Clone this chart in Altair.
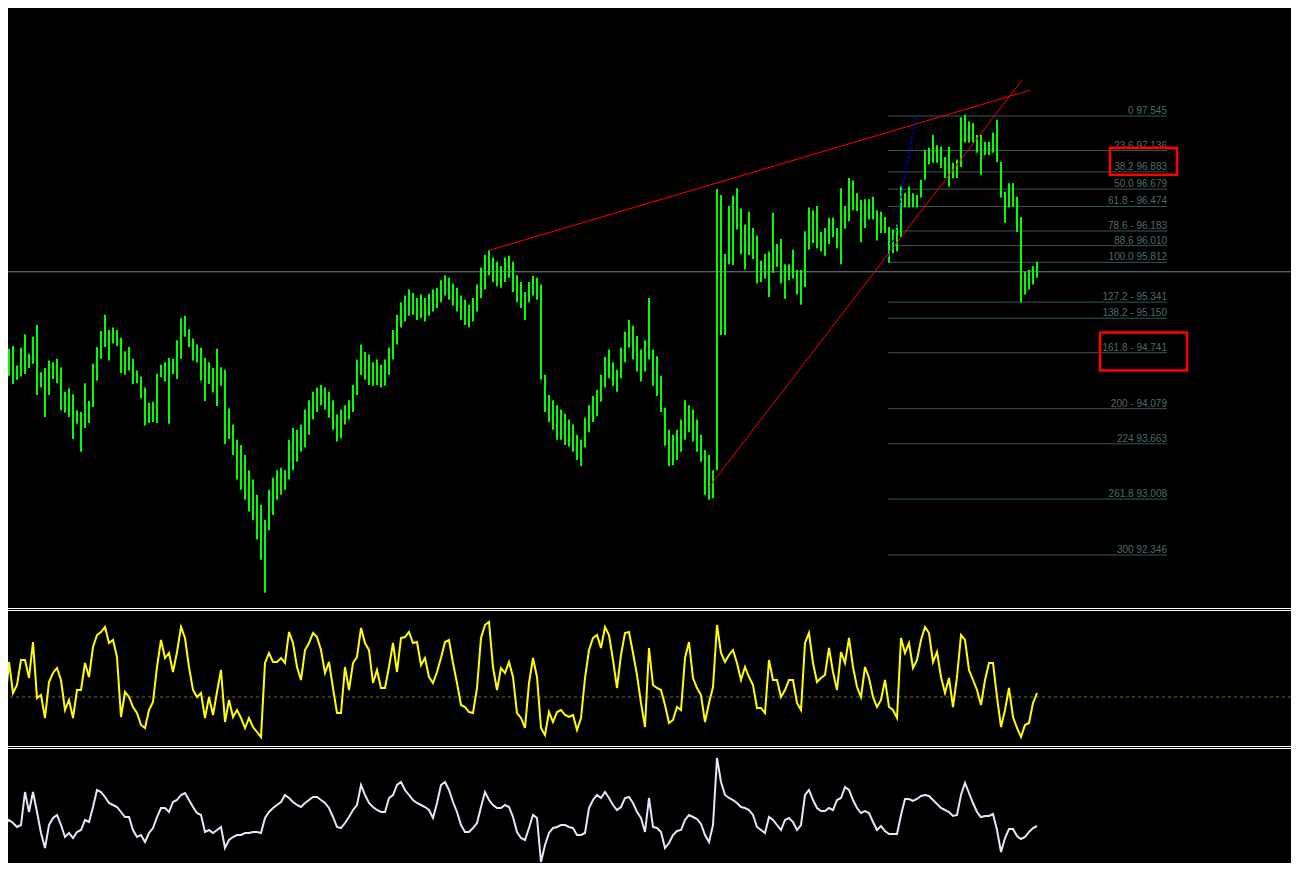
import altair as alt
import pandas as pd

# ---------------- price bars (high / low), one bar every 4 px of the original ----------------
high = [
    95.09, 94.68, 94.79, 94.82, 94.59, 94.80, 94.96, 94.73, 94.93, 95.07,
    94.51, 94.56, 94.65, 94.63, 94.67, 94.57, 94.28, 94.32, 94.25, 94.06,
    94.04, 94.38, 94.17, 94.61, 94.81, 95.00, 95.19, 95.01, 95.04, 95.01,
    94.92, 94.76, 94.81, 94.67, 94.53, 94.46, 94.33, 94.15, 94.16, 94.49,
    94.60, 94.63, 94.68, 94.67, 94.89, 95.15, 95.18, 95.02, 94.91, 94.84,
    94.80, 94.68, 94.63, 94.56, 94.79, 94.57, 94.54, 94.08, 93.89, 93.71,
    93.65, 93.53, 93.35, 93.24, 93.06, 92.94, 92.76, 93.12, 93.26, 93.35,
    93.38, 93.35, 93.71, 93.85, 93.83, 93.89, 94.07, 94.18, 94.28, 94.33,
    94.36, 94.33, 94.28, 94.18, 94.01, 94.07, 94.12, 94.18, 94.36, 94.66,
    94.84, 94.75, 94.72, 94.63, 94.66, 94.60, 94.66, 94.80, 95.01, 95.19,
    95.34, 95.42, 95.49, 95.45, 95.39, 95.43, 95.39, 95.44, 95.49, 95.51,
    95.60, 95.66, 95.63, 95.56, 95.51, 95.42, 95.37, 95.31, 95.39, 95.55,
    95.75, 95.90, 95.96, 95.87, 95.82, 95.77, 95.87, 95.89, 95.82, 95.66,
    95.58, 95.46, 95.58, 95.65, 95.63, 95.55, 94.48, 94.24, 94.18, 94.12,
    94.07, 94.02, 93.95, 93.89, 93.77, 93.71, 93.97, 94.12, 94.23, 94.30,
    94.48, 94.69, 94.78, 94.63, 94.54, 94.80, 94.99, 95.13, 95.06, 94.94,
    94.78, 94.89, 95.39, 94.78, 94.70, 94.47, 94.09, 93.83, 93.77, 93.83,
    93.95, 94.18, 94.12, 94.07, 93.95, 93.77, 93.59, 93.53, 93.35, 96.68,
    96.61, 95.91, 96.48, 96.60, 96.69, 96.45, 96.26, 96.41, 96.22, 96.13,
    95.83, 95.91, 95.94, 96.40, 96.03, 96.09, 95.79, 95.79, 95.96, 95.72,
    95.72, 96.18, 96.46, 96.43, 96.48, 96.17, 96.22, 96.34, 96.34, 96.22,
    96.69, 96.48, 96.81, 96.78, 96.63, 96.55, 96.56, 96.56, 96.59, 96.43,
    96.41, 96.35, 96.23, 96.20, 96.26, 96.71, 96.63, 96.71, 96.63, 96.61,
    96.79, 97.14, 97.17, 97.32, 97.20, 97.18, 97.06, 97.18, 96.99, 97.03,
    97.53, 97.56, 97.48, 97.46, 97.32, 97.32, 97.24, 97.24, 97.35, 97.50,
    97.00, 96.65, 96.75, 96.75, 96.59, 96.35, 95.70, 95.72, 95.77, 95.82,
]
low = [
    94.30, 94.43, 94.47, 94.37, 94.42, 94.46, 94.49, 94.56, 94.61, 94.24,
    94.33, 93.98, 94.24, 94.43, 94.38, 94.06, 94.03, 93.98, 93.72, 93.90,
    93.57, 93.85, 93.91, 94.10, 94.41, 94.67, 94.81, 94.65, 94.85, 94.82,
    94.50, 94.48, 94.53, 94.37, 94.38, 94.20, 93.88, 93.91, 93.92, 93.91,
    94.45, 94.40, 93.90, 94.49, 94.43, 94.67, 94.93, 94.81, 94.65, 94.63,
    94.41, 94.17, 94.37, 94.27, 94.11, 94.35, 93.66, 93.72, 93.53, 93.24,
    93.12, 93.00, 92.86, 92.76, 92.53, 92.29, 91.90, 92.64, 92.82, 93.00,
    93.06, 93.12, 93.24, 93.35, 93.45, 93.57, 93.62, 93.77, 93.95, 94.04,
    94.12, 94.07, 93.97, 93.83, 93.69, 93.73, 93.89, 93.95, 94.04, 94.24,
    94.48, 94.42, 94.36, 94.35, 94.36, 94.33, 94.35, 94.48, 94.66, 94.84,
    95.04, 95.11, 95.18, 95.19, 95.13, 95.15, 95.11, 95.18, 95.23, 95.27,
    95.34, 95.42, 95.37, 95.30, 95.23, 95.13, 95.07, 95.04, 95.11, 95.23,
    95.39, 95.49, 95.66, 95.58, 95.53, 95.51, 95.58, 95.63, 95.46, 95.34,
    95.27, 95.13, 95.34, 95.42, 95.37, 94.42, 94.04, 93.92, 93.83, 93.71,
    93.71, 93.65, 93.63, 93.57, 93.47, 93.40, 93.62, 93.80, 93.92, 93.99,
    94.16, 94.33, 94.44, 94.35, 94.28, 94.44, 94.63, 94.80, 94.66, 94.52,
    94.40, 94.52, 94.66, 94.35, 94.23, 94.04, 93.64, 93.40, 93.41, 93.47,
    93.57, 93.71, 93.80, 93.69, 93.57, 93.45, 93.06, 93.00, 93.02, 93.35,
    94.95, 94.95, 95.79, 95.78, 96.20, 95.91, 95.73, 95.90, 95.85, 95.56,
    95.58, 95.62, 95.40, 95.69, 95.76, 95.56, 95.38, 95.60, 95.62, 95.43,
    95.31, 95.52, 95.96, 96.04, 95.98, 95.94, 95.89, 96.03, 96.11, 95.98,
    95.79, 96.21, 96.30, 96.43, 96.42, 96.05, 96.22, 96.32, 96.32, 96.07,
    96.16, 96.16, 95.81, 95.92, 95.94, 96.11, 96.46, 96.46, 96.46, 96.46,
    96.58, 96.79, 96.97, 96.99, 96.99, 96.93, 96.81, 96.71, 96.81, 96.81,
    96.94, 97.23, 97.23, 97.23, 97.11, 96.85, 97.08, 97.08, 97.11, 97.00,
    96.58, 96.28, 96.46, 96.47, 96.17, 95.34, 95.43, 95.49, 95.55, 95.63,
]

# ---------------- oscillator (yellow, centred on 0) ----------------
yellow = [
    14, -8, 35, 4, 12, 37, 37, 19, 55, -1,
    2, -21, 15, 24, 29, 17, -13, -3, -21, 7,
    7, 34, 20, 50, 62, 65, 70, 54, 57, 40,
    -20, 5, 0, -10, -16, -28, -31, -13, -5, 30,
    57, 39, 44, 25, 45, 70, 59, 30, 7, 0,
    4, -21, 0, -18, 5, 27, -25, -3, -20, -13,
    -21, -31, -21, -30, -35, -40, 34, 44, 35, 35,
    39, 34, 65, 54, 30, 17, 47, 54, 64, 60,
    47, 24, 35, 9, -16, -16, 30, 7, 34, 40,
    69, 54, 47, 14, 27, 9, 9, 30, 54, 25,
    59, 60, 65, 54, 55, 32, 39, 20, 14, 25,
    39, 55, 57, 34, 14, -8, -10, -15, -16, 9,
    59, 72, 75, 30, 7, 29, 24, 35, 20, -16,
    -21, -31, 14, 39, 20, -31, -38, -15, -25, -15,
    -13, -18, -20, -18, -33, -21, 19, 47, 59, 62,
    49, 70, 62, 37, 9, 42, 64, 65, 44, 22,
    -6, -30, 49, 12, 9, 7, -8, -26, -23, -10,
    -13, 39, 55, 19, 9, 2, -25, -6, 10, 72,
    44, 35, 42, 47, 34, 17, 30, 20, 12, -11,
    -11, -16, 37, 17, 17, 0, 7, 17, 17, -6,
    -13, 54, 64, 34, 15, 19, 22, 49, 25, 7,
    45, 34, 59, 30, 10, 0, 30, 19, 0, -10,
    -3, 17, -10, -13, -21, 59, 44, 54, 29, 37,
    57, 70, 64, 35, 45, 20, 4, 19, -10, 20,
    62, 57, 27, 17, 7, -8, 17, 34, 34, 0,
    -30, -13, 9, -20, -31, -40, -28, -26, -6, 4,
]

# ---------------- second indicator (lavender line) ----------------
white = [
    48, 45, 50, 47, 43, 45, 78, 58, 78, 58,
    37, 22, 45, 52, 55, 45, 33, 37, 32, 38,
    40, 50, 48, 63, 80, 78, 73, 67, 65, 63,
    58, 53, 53, 40, 33, 35, 28, 37, 42, 53,
    62, 62, 58, 68, 70, 75, 77, 70, 63, 57,
    55, 38, 40, 37, 40, 43, 22, 30, 33, 35,
    35, 37, 37, 38, 38, 37, 52, 58, 62, 65,
    68, 75, 72, 68, 65, 63, 67, 70, 73, 73,
    70, 67, 62, 53, 43, 42, 47, 53, 60, 65,
    85, 75, 67, 63, 60, 58, 58, 72, 75, 85,
    88, 80, 75, 70, 67, 65, 63, 60, 52, 67,
    85, 88, 80, 68, 58, 45, 38, 38, 42, 47,
    63, 78, 70, 65, 62, 62, 65, 63, 53, 38,
    32, 30, 42, 55, 52, 8, 25, 37, 42, 43,
    45, 45, 43, 42, 35, 35, 37, 62, 70, 75,
    72, 78, 72, 65, 60, 63, 72, 73, 67, 58,
    52, 38, 72, 43, 42, 38, 22, 27, 35, 39,
    40, 50, 55, 53, 51, 46, 35, 28, 45, 112,
    88, 75, 72, 70, 67, 63, 62, 60, 55, 43,
    40, 37, 53, 50, 45, 40, 50, 52, 48, 40,
    45, 75, 80, 70, 62, 59, 59, 62, 60, 70,
    72, 83, 80, 70, 62, 57, 59, 57, 48, 40,
    44, 39, 36, 36, 36, 55, 71, 71, 69, 71,
    74, 75, 74, 70, 66, 62, 60, 58, 54, 55,
    75, 87, 77, 67, 58, 53, 54, 54, 56, 40,
    18, 32, 41, 41, 34, 31, 33, 38, 42, 44,
]

# ---------------- Fibonacci tool ----------------
fib_prices = [97.545, 97.136, 96.883, 96.679, 96.474, 96.183, 96.010, 95.812,
              95.341, 95.150, 94.741, 94.079, 93.663, 93.008, 92.346]
fib_labels = ["0 97.545", "23.6 97.136", "38.2 96.883", "50.0 96.679",
              "61.8 - 96.474", "78.6 - 96.183", "88.6 96.010", "100.0 95.812",
              "127.2 - 95.341", "138.2 - 95.150", "161.8 -  94.741",
              "200 - 94.079", "224 93.663", "261.8 93.008", "300 92.346"]
fib_start_bar = 221.75
fib_end_bar = 291.5

# trend lines (bar index, price)
trend_names = ["upper", "upper", "lower", "lower"]
trend_bars = [121.75, 257.25, 177.0, 255.25]
trend_prices = [95.95, 97.85, 93.15, 97.97]

# blue dashed curve
arc_bars = [221.5, 224.0, 225.25, 226.5, 227.75, 229.0]
arc_prices = [95.82, 96.23, 96.67, 96.99, 97.30, 97.53]

# red highlight boxes
box_bar_from = [277.25, 274.75]
box_bar_to = [294.0, 296.5]
box_price_low = [96.85, 94.53]
box_price_high = [97.17, 94.98]

current_price = [95.70]
osc_mid = [0]
panel_borders = [88.5, 86.5, -49.5, -51.5]

# ---------------- tables ----------------
bars_df = pd.DataFrame({"bar": list(range(len(high))), "high": high, "low": low})
yellow_df = pd.DataFrame({"bar": list(range(len(yellow))), "value": yellow})
white_df = pd.DataFrame({"bar": list(range(len(white))), "value": white})
fib_df = pd.DataFrame({"price": fib_prices, "label": fib_labels,
                       "start": [fib_start_bar] * len(fib_prices),
                       "end": [fib_end_bar] * len(fib_prices)})
trend_df = pd.DataFrame({"line": trend_names, "bar": trend_bars, "price": trend_prices})
arc_df = pd.DataFrame({"bar": arc_bars, "price": arc_prices})
box_df = pd.DataFrame({"x1": box_bar_from, "x2": box_bar_to,
                       "p1": box_price_low, "p2": box_price_high})
cur_df = pd.DataFrame({"price": current_price})
mid_df = pd.DataFrame({"level": osc_mid})
border_df = pd.DataFrame({"level": panel_borders})

W, H = 1283, 855
x_scale = alt.Scale(domain=[1.75, 322.5], nice=False, zero=False)
price_scale = alt.Scale(domain=[91.742, 98.824], range=[598, 0], nice=False, zero=False)
osc_scale = alt.Scale(domain=[-52, 90], range=[741, 599], nice=False, zero=False)
vol_scale = alt.Scale(domain=[7, 120], range=[855, 742], nice=False, zero=False)


def X(field):
    return alt.X(f"{field}:Q", scale=x_scale, axis=None)


def PY(field):
    return alt.Y(f"{field}:Q", scale=price_scale, axis=None)


fib_lines = alt.Chart(fib_df).mark_rule(color="#385858", strokeWidth=1).encode(
    x=X("start"), x2="end:Q", y=PY("price"))

fib_text = alt.Chart(fib_df).mark_text(
    align="right", baseline="alphabetic", dy=-2, fontSize=10,
    font="Liberation Sans Narrow, Liberation Sans, Arial", color="#4d6b6b").encode(
    x=X("end"), y=PY("price"), text="label:N")

cur_line = alt.Chart(cur_df).mark_rule(color="#778899", strokeWidth=1).encode(
    y=PY("price"))

bars = alt.Chart(bars_df).mark_rule(color="#00ff00", strokeWidth=2, clip=True).encode(
    x=X("bar"), y=PY("low"), y2="high:Q")

trends = alt.Chart(trend_df).mark_line(color="#ff0000", strokeWidth=1, clip=True).encode(
    x=X("bar"), y=PY("price"), detail="line:N", order="bar:Q")

arc = alt.Chart(arc_df).mark_line(color="#0000ff", strokeWidth=1.2,
                                  strokeDash=[3, 2], clip=True).encode(
    x=X("bar"), y=PY("price"), order="bar:Q")

boxes = alt.Chart(box_df).mark_rect(fillOpacity=0, stroke="#ff0000", strokeWidth=2.5).encode(
    x=X("x1"), x2="x2:Q", y=PY("p1"), y2="p2:Q")

borders = alt.Chart(border_df).mark_rule(color="#ffffff", strokeWidth=1).encode(
    y=alt.Y("level:Q", scale=osc_scale, axis=None))

midline = alt.Chart(mid_df).mark_rule(color="#6e6e28", strokeWidth=1, strokeDash=[3, 3]).encode(
    y=alt.Y("level:Q", scale=osc_scale, axis=None))

yellow_line = alt.Chart(yellow_df).mark_line(color="#ffff00", strokeWidth=2, clip=True).encode(
    x=X("bar"), y=alt.Y("value:Q", scale=osc_scale, axis=None))

white_line = alt.Chart(white_df).mark_line(color="#e6e6fa", strokeWidth=2, clip=True).encode(
    x=X("bar"), y=alt.Y("value:Q", scale=vol_scale, axis=None))

chart = alt.layer(
    fib_lines, fib_text, cur_line, bars, trends, arc, boxes,
    borders, midline, yellow_line, white_line,
).resolve_scale(y="independent").properties(
    width=W, height=H, background="#000000", padding=0,
    autosize=alt.AutoSizeParams(type="none"),
).configure_view(stroke=None)

chart.save("out.html", embed_options={"renderer": "svg", "actions": False})
